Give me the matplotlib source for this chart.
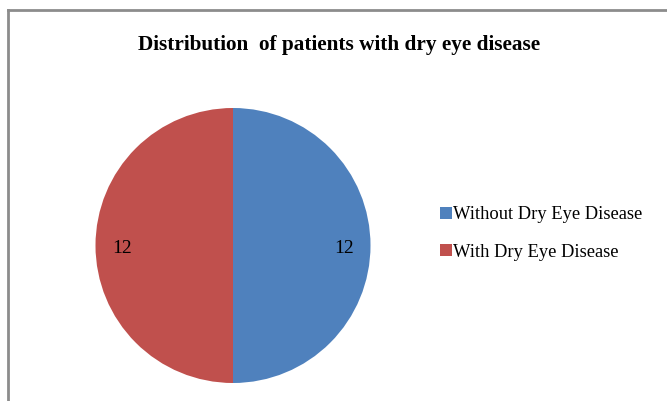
import matplotlib
matplotlib.use("Agg")
import matplotlib.pyplot as plt
from matplotlib.lines import Line2D

# Chart data
categories = ["Without Dry Eye Disease", "With Dry Eye Disease"]
counts = [12, 12]
colors = ["#4F81BD", "#C0504D"]
title = "Distribution  of patients with dry eye disease"

W, H = 667, 401
plt.rcParams["font.family"] = ["Liberation Serif", "DejaVu Serif"]

fig = plt.figure(figsize=(W / 100, H / 100), dpi=100)

# chart-area border (left and top edges visible)
border = dict(color="#8c8c8c", linewidth=2, transform=fig.transFigure)
fig.add_artist(Line2D([8 / W, 8 / W], [0, 1 - 10 / H], **border))
fig.add_artist(Line2D([8 / W, 1], [1 - 10 / H, 1 - 10 / H], **border))

fig.text(339 / W, 1 - 45 / H, title, ha="center", va="center",
         fontsize=15.3, fontweight="bold")

# pie: center (233, 245.5) px, radius 137.5 px
cx, cy, r = 233, 245.5, 137.5
ax = fig.add_axes([(cx - r) / W, 1 - (cy + r) / H, 2 * r / W, 2 * r / H])
total = sum(counts)
wedges, texts, autotexts = ax.pie(
    counts, colors=colors, startangle=90, counterclock=False,
    autopct=lambda p: f"{p * total / 100:.0f}", pctdistance=0.81,
    textprops=dict(fontsize=14, color="black"))
for t in autotexts:
    x, y = t.get_position()
    t.set_position((x, y - 0.02))
ax.set_xlim(-1, 1)
ax.set_ylim(-1, 1)
ax.set_aspect("auto")
ax.axis("off")

fig.legend(wedges, categories, loc="center left",
           bbox_to_anchor=(431 / W, 1 - 233.5 / H), frameon=False,
           fontsize=13.3, handlelength=0.65, handleheight=0.65,
           handletextpad=0.05, labelspacing=1.1, borderpad=0)

fig.savefig("out.png", dpi=100)
